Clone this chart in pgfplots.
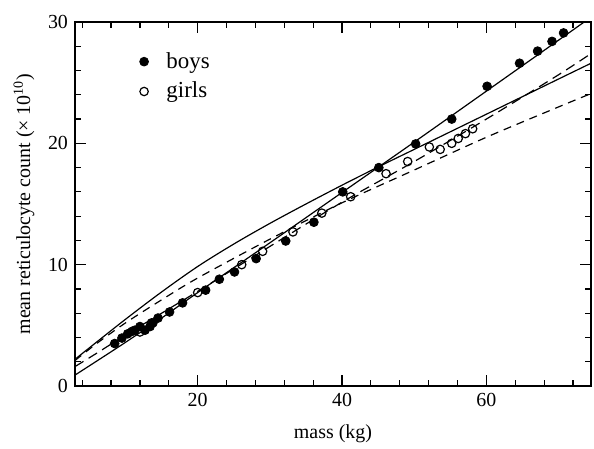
\documentclass[border=0pt,10pt]{standalone}
\usepackage{fontspec}
\setmainfont{Liberation Serif}
\usepackage{pgfplots}
\pgfplotsset{compat=1.18}

\begin{document}
\begin{tikzpicture}
\begin{axis}[
  name=ax,
  scale only axis,
  width=258bp, height=182bp,
  xmin=3, xmax=74.5, ymin=0, ymax=30,
  xtick={20,40,60}, ytick={0,10,20,30},
  minor xtick={4,8,12,16,24,28,32,36,44,48,52,56,64,68,72},
  minor ytick={2,4,6,8,12,14,16,18,22,24,26,28},
  tick align=inside,
  major tick length=5.5bp, minor tick length=2.8bp,
  tick style={black, line width=0.6pt},
  axis line style={line width=0.7pt},
  /pgf/number format/assume math mode=true,
  tick label style={font=\normalsize},
  xlabel={mass (kg)},
  ylabel={mean reticulocyte count (× 10\textsuperscript{10})},
  xlabel style={at={(axis description cs:0.5,0)}, anchor=base, yshift=-26bp},
  legend style={at={(0.113,0.94)}, anchor=north west, draw=none, fill=none,
                font=\fontsize{11.5}{13}\selectfont, row sep=1.5pt},
  legend cell align=left,
]
% fitted curves
\addplot[black, line width=0.6pt, smooth, forget plot] coordinates {
  (3,0.9) (6,2.05) (10,3.6) (15,5.6) (20,7.7) (30,11.8) (40,15.95)
  (50,20.1) (60,24.3) (70,28.5) (74.5,30.4)};
\addplot[black, line width=0.6pt, smooth, forget plot] coordinates {
  (3,2.2) (5,3.15) (10,5.5) (15,7.75) (20,9.85) (25,11.7) (30,13.4)
  (35,15.0) (40,16.55) (45,18.05) (50,19.5) (55,20.95) (60,22.4)
  (65,23.85) (70,25.3) (74.5,26.6)};
\addplot[black, line width=0.6pt, smooth, dash pattern=on 5pt off 3pt, forget plot] coordinates {
  (3,1.6) (6,2.7) (10,4.2) (15,6.0) (20,7.8) (30,11.5) (40,15.15)
  (50,18.5) (60,22.0) (70,25.65) (74.5,27.4)};
\addplot[black, line width=0.6pt, smooth, dash pattern=on 4pt off 3pt, forget plot] coordinates {
  (3,2.1) (6,3.5) (10,5.2) (15,7.1) (20,8.9) (30,12.1) (40,15.1)
  (50,17.8) (60,20.5) (70,23.0) (74.5,24.1)};
% boys
\addplot[only marks, mark=*, mark size=2.2bp, mark options={fill=black, draw=black}] coordinates {
  (8.5,3.5) (9.5,3.95) (10.3,4.3) (10.9,4.5) (11.3,4.6) (12.0,4.9)
  (12.7,4.6) (13.4,4.9) (13.8,5.2) (14.5,5.6) (16.1,6.1) (17.9,6.85)
  (21.1,7.9) (23.0,8.8) (25.1,9.4) (28.1,10.5) (32.2,11.95) (36.1,13.5)
  (40.1,16.0) (45.1,18.0) (50.2,19.95) (55.2,22.0) (60.1,24.7)
  (64.6,26.6) (67.1,27.6) (69.1,28.4) (70.7,29.1)};
\addlegendentry{\hspace{7bp}boys}
% girls
\addplot[only marks, mark=o, mark size=2.1bp, mark options={fill=white, draw=black, line width=0.6pt}] coordinates {
  (12.0,4.45) (13.6,5.2) (20.0,7.7) (26.1,10.0) (29.0,11.1) (33.2,12.7)
  (37.2,14.25) (41.2,15.6) (46.1,17.5) (49.1,18.5) (52.1,19.7)
  (53.6,19.5) (55.2,20.0) (56.1,20.4) (57.1,20.8) (58.1,21.2)};
\addlegendentry{\hspace{7bp}girls}
\end{axis}
\useasboundingbox (ax.south west) ++(-37.5bp,-29.5bp) rectangle ([xshift=1.5bp,yshift=11bp]ax.north east);
\end{tikzpicture}
\end{document}
